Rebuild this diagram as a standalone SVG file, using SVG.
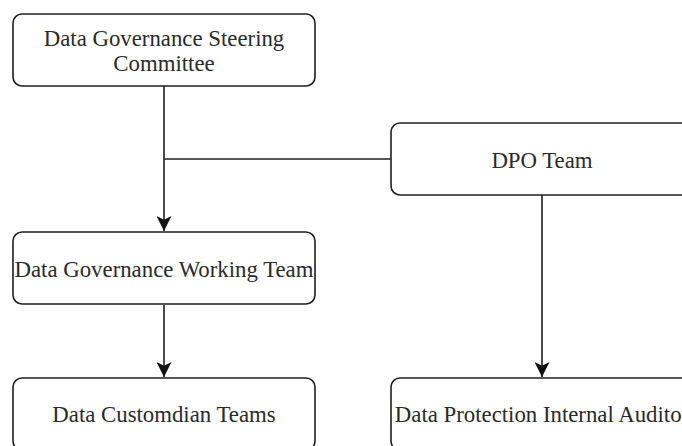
<svg xmlns="http://www.w3.org/2000/svg" width="682" height="446" viewBox="0 0 682 446">
  <style>
    .box { fill: #ffffff; stroke: #1f1f1f; stroke-width: 1.6; }
    .label { font-family: "Liberation Serif", "Times New Roman", serif; font-size: 22.8px; fill: #2a2a2a; text-anchor: middle; }
    .edge { fill: none; stroke: #1f1f1f; stroke-width: 1.6; }
  </style>
  <defs>
    <marker id="arrow" markerUnits="userSpaceOnUse" markerWidth="15" markerHeight="15" refX="14" refY="7" orient="auto" viewBox="0 0 14 14">
      <path d="M0,0 L14,7 L0,14 L3.5,7 z" fill="#111111"/>
    </marker>
  </defs>
  <rect width="682" height="446" fill="#ffffff"/>

  <g id="connectors">
    <path class="edge" d="M164,86 L164,231" marker-end="url(#arrow)"/>
    <path class="edge" d="M391,159 L164,159"/>
    <path class="edge" d="M542,195 L542,377" marker-end="url(#arrow)"/>
    <path class="edge" d="M164,305 L164,377" marker-end="url(#arrow)"/>
  </g>

  <g id="steering-committee">
    <rect class="box" x="13" y="14" width="302" height="72" rx="9"/>
    <text class="label" x="164" y="46">Data Governance Steering</text>
    <text class="label" x="164" y="71">Committee</text>
  </g>

  <g id="dpo-team">
    <rect class="box" x="391" y="123" width="302" height="72" rx="9"/>
    <text class="label" x="542" y="168">DPO Team</text>
  </g>

  <g id="working-team">
    <rect class="box" x="13" y="232" width="302" height="72" rx="9"/>
    <text class="label" x="164" y="277">Data Governance Working Team</text>
  </g>

  <g id="custodian-teams">
    <rect class="box" x="13" y="378" width="302" height="72" rx="9"/>
    <text class="label" x="164" y="422">Data Customdian Teams</text>
  </g>

  <g id="internal-auditor">
    <rect class="box" x="391" y="378" width="302" height="72" rx="9"/>
    <text class="label" x="542" y="422">Data Protection Internal Auditor</text>
  </g>
</svg>
